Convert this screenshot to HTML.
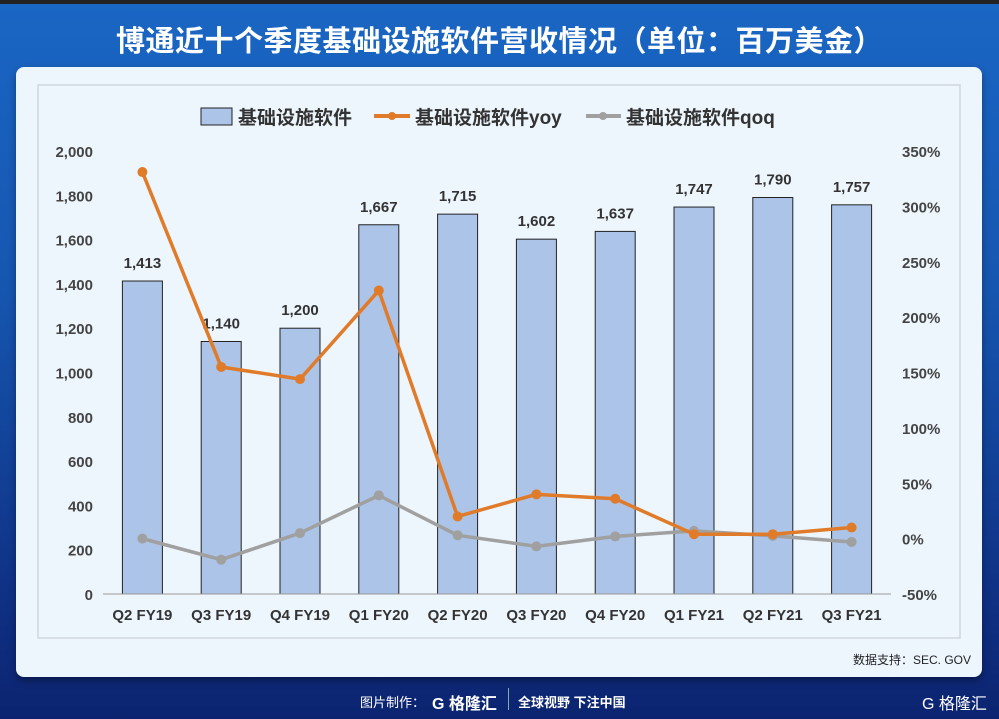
<!DOCTYPE html>
<html><head><meta charset="utf-8">
<style>
body{margin:0;width:999px;height:719px;overflow:hidden;font-family:"Liberation Sans","Noto Sans CJK SC",sans-serif;}
#bg{position:absolute;left:0;top:0;width:999px;height:719px;background:linear-gradient(180deg,#1a66c4 0%,#1656b0 40%,#0f2f82 85%,#0c2470 100%);}
#topbar{position:absolute;left:0;top:0;width:999px;height:4px;background:#222;}
#title{position:absolute;left:0;top:18px;width:999px;text-align:center;color:#fff;font-size:29px;font-weight:bold;letter-spacing:0.5px;}
#card{position:absolute;left:16px;top:67px;width:966px;height:610px;background:#eef6fd;border-radius:8px;box-shadow:0 4px 8px rgba(0,0,0,.35);}
#src{position:absolute;right:28px;top:651px;font-size:12px;color:#222;}
#footer{position:absolute;left:0;top:686px;width:999px;height:30px;color:#fff;font-size:13px;font-weight:bold;}
</style></head><body>
<div id="bg"></div>
<div id="topbar"></div>
<div id="title">博通近十个季度基础设施软件营收情况（单位：百万美金）</div>
<div id="card"></div>
<svg id="chart" width="999" height="719" style="position:absolute;left:0;top:0"></svg>
<div id="src">数据支持：SEC. GOV</div>
<div id="footer">
<span style="position:absolute;left:360px;top:6px;font-weight:normal">图片制作：</span>
<span style="position:absolute;left:432px;top:4px;font-size:16px">G 格隆汇</span>
<span style="position:absolute;left:508px;top:2px;width:1px;height:22px;background:#8aa;"></span>
<span style="position:absolute;left:518px;top:6px">全球视野 下注中国</span>
<span style="position:absolute;left:922px;top:4px;font-size:16px;font-weight:normal">G 格隆汇</span>
</div>
<script>
const categories=["Q2 FY19","Q3 FY19","Q4 FY19","Q1 FY20","Q2 FY20","Q3 FY20","Q4 FY20","Q1 FY21","Q2 FY21","Q3 FY21"];
const revenue=[1413,1140,1200,1667,1715,1602,1637,1747,1790,1757];
const yoy=[331,155,144,224,20,40,36,4,4,10];
const qoq=[0,-19,5,39,3,-7,2,7,2.5,-3];
const leftTicks=[0,200,400,600,800,1000,1200,1400,1600,2000,1800];
const rightTicks=[-50,0,50,100,150,200,250,300,350];
const svg=document.getElementById('chart');
const NS='http://www.w3.org/2000/svg';
const X0=103,STEP=78.8,YT=151,YB=594;
const xC=i=>X0+STEP*(i+0.5);
const yL=v=>YB-(v/2000)*(YB-YT);
const yR=v=>YB-((v+50)/400)*(YB-YT);
function el(t,a,txt){const e=document.createElementNS(NS,t);for(const k in a)e.setAttribute(k,a[k]);if(txt!==undefined)e.textContent=txt;svg.appendChild(e);return e;}
const fmt=v=>v.toLocaleString('en-US');
let e=el('rect',{x:38,y:85,width:922,height:553,fill:'none',stroke:'#d0d6de','stroke-width':1.5});


// legend
e=el('rect',{x:201,y:108,width:31,height:17,fill:'#abc4e8',stroke:'#222','stroke-width':1});


const lg=[[238,'基础设施软件'],[415,'基础设施软件yoy'],[626,'基础设施软件qoq']];
lg.forEach((l,i)=>{const t=el('text',{x:l[0],y:124,'font-size':19,'font-weight':'bold',fill:'#333'},l[1]);

});
e=el('line',{x1:374,y1:116,x2:410,y2:116,stroke:'#e07b2a','stroke-width':4});


el('circle',{cx:392,cy:116,r:4,fill:'#e07b2a'});
e=el('line',{x1:586,y1:116,x2:621,y2:116,stroke:'#a0a0a0','stroke-width':4});


el('circle',{cx:603,cy:116,r:4,fill:'#a0a0a0'});
// axes ticks
leftTicks.forEach(v=>{const t=el('text',{x:93,y:yL(v)+6,'text-anchor':'end','font-size':15,'font-weight':'bold',fill:'#444'},fmt(v));

});
rightTicks.forEach(v=>{const t=el('text',{x:902,y:yR(v)+6,'font-size':15,'font-weight':'bold',fill:'#444'},v+'%');

});
categories.forEach((c,i)=>{const t=el('text',{x:xC(i),y:620,'text-anchor':'middle','font-size':15,'font-weight':'bold',fill:'#333'},c);

});
// bars
revenue.forEach((v,i)=>{const b=el('rect',{x:xC(i)-20,y:yL(v),width:40,height:YB-yL(v),fill:'#abc4e8',stroke:'#222','stroke-width':1});


const t=el('text',{x:xC(i),y:yL(v)-13,'text-anchor':'middle','font-size':15,'font-weight':'bold',fill:'#333'},fmt(v));

});
el('line',{x1:X0,y1:YB,x2:X0+STEP*10,y2:YB,stroke:'#999','stroke-width':1});
function line(arr,color,name){
const p=el('polyline',{points:arr.map((v,i)=>xC(i)+','+yR(v)).join(' '),fill:'none',stroke:color,'stroke-width':3.5,'stroke-linejoin':'round'});


arr.forEach((v,i)=>{const c=el('circle',{cx:xC(i),cy:yR(v),r:5,fill:color});

});}
line(qoq,'#a0a0a0','qoq');
line(yoy,'#e07b2a','yoy');
</script>
</body></html>
